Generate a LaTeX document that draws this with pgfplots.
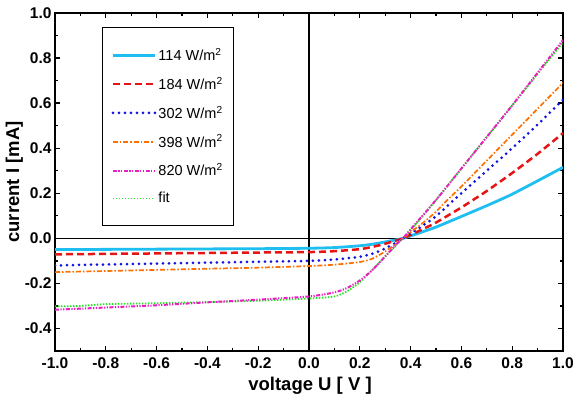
\documentclass[border=0pt]{standalone}
\usepackage{fontspec}
\setmainfont{Liberation Sans}
\usepackage{pgfplots}
\pgfplotsset{compat=1.18}
\definecolor{cCyan}{RGB}{30,190,240}
\definecolor{cRed}{RGB}{230,20,20}
\definecolor{cBlue}{RGB}{20,20,225}
\definecolor{cOrange}{RGB}{255,110,0}
\definecolor{cMag}{RGB}{235,30,195}
\definecolor{cGreen}{RGB}{40,225,40}
\begin{document}
\begin{tikzpicture}
\begin{axis}[
  name=ax,
  width=508pt, height=338pt, scale only axis,
  xmin=-1, xmax=1, ymin=-0.5, ymax=1.0,
  xtick={-1,-0.8,...,1.01}, ytick={-0.4,-0.2,...,1.01},
  minor x tick num=1, minor y tick num=1,
  tick align=inside, xtick pos=both, ytick pos=both,
  xticklabel pos=bottom, yticklabel pos=left,
  major tick length=5pt, minor tick length=3pt,
  axis line style={line width=1.6pt},
  every tick/.style={black, line width=1.3pt},
  /pgf/number format/assume math mode=true,
  /pgf/number format/.cd, fixed, fixed zerofill, precision=1,
  /pgfplots/.cd,
  ticklabel style={font=\fontsize{15.5}{17}\selectfont\bfseries},
  xticklabel style={yshift=-3pt},
  xlabel={voltage U [ V ]},
  ylabel={current I [mA]},
  label style={font=\fontsize{18.5}{20}\selectfont\bfseries},
  xlabel style={at={(axis description cs:0.502,-0.1036)}, anchor=center},
  ylabel style={at={(axis description cs:-0.0800,0.5)}, anchor=center},
  legend cell align=left,
  legend image code/.code={\draw[#1] (0pt,0pt) -- (42pt,0pt);},
  legend style={at={(axis description cs:0.0925,0.959)}, anchor=north west,
    draw=black, line width=1pt, inner xsep=9pt, inner ysep=19pt,
    row sep=11pt, font=\fontsize{14.5}{16}\selectfont},
]
\draw[black, line width=1pt] (axis cs:-1,0) -- (axis cs:1,0);
\draw[black, line width=2pt] (axis cs:0,-0.5) -- (axis cs:0,1);

\addplot[cCyan, line width=2.8pt, smooth, tension=0.4] coordinates {
(-1,-0.050) (-0.8,-0.049) (-0.6,-0.048) (-0.4,-0.047) (-0.2,-0.046) (0,-0.044)
(0.1,-0.041) (0.2,-0.033) (0.25,-0.026) (0.3,-0.016) (0.35,-0.005) (0.37,0)
(0.4,0.011) (0.45,0.030) (0.5,0.050) (0.6,0.097) (0.7,0.145) (0.75,0.170)
(0.8,0.196) (0.9,0.255) (1.0,0.315)};
\addlegendentry{114 W/m\textsuperscript{2}}

\addplot[cRed, line width=2.5pt, dash pattern=on 7pt off 4pt, smooth, tension=0.4] coordinates {
(-1,-0.071) (-0.8,-0.069) (-0.6,-0.067) (-0.4,-0.065) (-0.2,-0.063) (0,-0.061)
(0.1,-0.057) (0.2,-0.048) (0.25,-0.038) (0.3,-0.024) (0.35,-0.007) (0.37,0)
(0.4,0.015) (0.45,0.042) (0.5,0.070) (0.6,0.137) (0.64,0.166) (0.7,0.21)
(0.8,0.29) (0.9,0.375) (1.0,0.467)};
\addlegendentry{184 W/m\textsuperscript{2}}

\addplot[cBlue, line width=3pt, line cap=round, dash pattern=on 0pt off 6pt, smooth, tension=0.4] coordinates {
(-1,-0.120) (-0.8,-0.116) (-0.6,-0.112) (-0.4,-0.108) (-0.2,-0.104) (0,-0.100)
(0.1,-0.094) (0.2,-0.082) (0.25,-0.068) (0.3,-0.045) (0.35,-0.014) (0.37,0)
(0.4,0.022) (0.45,0.058) (0.5,0.098) (0.57,0.17) (0.6,0.20) (0.7,0.30)
(0.8,0.40) (0.9,0.505) (1.0,0.615)};
\addlegendentry{302 W/m\textsuperscript{2}}

\addplot[cOrange, line width=1.7pt, dash pattern=on 5pt off 2pt on 1.5pt off 2pt, smooth, tension=0.4] coordinates {
(-1,-0.150) (-0.8,-0.145) (-0.6,-0.140) (-0.4,-0.135) (-0.2,-0.130) (0,-0.123)
(0.1,-0.117) (0.2,-0.105) (0.25,-0.09) (0.3,-0.058) (0.35,-0.018) (0.37,0)
(0.4,0.027) (0.45,0.07) (0.5,0.118) (0.54,0.165) (0.6,0.23) (0.7,0.345)
(0.8,0.46) (0.9,0.575) (1.0,0.69)};
\addlegendentry{398 W/m\textsuperscript{2}}

\addplot[cGreen, line width=1.8pt, dash pattern=on 1.5pt off 1.5pt, smooth, tension=0.4, forget plot] coordinates {
(-1,-0.302) (-0.9,-0.300) (-0.8,-0.292) (-0.6,-0.288) (-0.4,-0.283) (-0.2,-0.277)
(0,-0.267) (0.1,-0.258) (0.15,-0.235) (0.2,-0.195) (0.25,-0.14) (0.3,-0.08)
(0.35,-0.02) (0.37,0) (0.4,0.035) (0.5,0.17) (0.6,0.31) (0.7,0.45) (0.8,0.59)
(0.9,0.73) (1.0,0.87)};

\addplot[cMag, line width=2pt, dash pattern=on 4pt off 1.5pt on 1.2pt off 1.5pt on 1.2pt off 1.5pt, smooth, tension=0.4] coordinates {
(-1,-0.317) (-0.8,-0.307) (-0.6,-0.297) (-0.4,-0.284) (-0.2,-0.272) (0,-0.258)
(0.1,-0.24) (0.15,-0.22) (0.2,-0.187) (0.25,-0.14) (0.3,-0.08) (0.35,-0.02)
(0.37,0) (0.4,0.04) (0.5,0.17) (0.6,0.31) (0.7,0.45) (0.8,0.59) (0.9,0.735) (1.0,0.88)};
\addlegendentry{820 W/m\textsuperscript{2}}

\addlegendimage{cGreen, line width=1.8pt, dash pattern=on 1.5pt off 1.5pt}
\addlegendentry{fit}
\end{axis}
\pgfresetboundingbox
\path ([shift={(-55pt,-50pt)}]ax.south west) rectangle ([shift={(11pt,13pt)}]ax.north east);
\end{tikzpicture}
\end{document}
